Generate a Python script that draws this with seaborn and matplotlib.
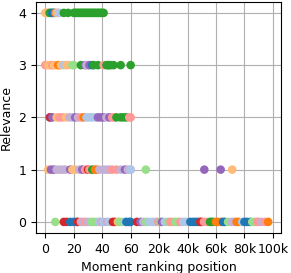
import numpy as np
import pandas as pd
import seaborn as sns
import matplotlib
matplotlib.use("Agg")
import matplotlib.pyplot as plt
from matplotlib.ticker import FuncFormatter

plt.rcParams["font.size"] = 9

# group codes -> tab20 colours (first ten)
B, LB, O, LO, G, LG, R, P, PU, LPU = range(10)

# relevance 4
rank_4 = [0, 1, 2, 3, 4, 5, 6, 7, 8, 9, 10, 13, 16, 20, 21, 22, 23, 24, 25, 26, 27,
          28, 29, 30, 31, 32, 33, 34, 35, 36, 37, 38, 39, 40, 41]
group_4 = [LO, LO, LO, G, G, B, B, O, LB, LO, LB, G, G, G, G, G, G, G, G, G, G,
           G, G, G, G, G, G, G, G, G, G, G, G, G, G]

# relevance 3
rank_3 = [0, 2, 3, 4, 5, 6, 7, 9, 10, 11, 13, 15, 16, 19, 20, 25, 28, 29, 30, 31,
          33, 34, 37, 41, 43, 44, 45, 46, 48, 53, 60]
group_3 = [P, LO, LO, LO, P, LO, LO, O, O, LO, LB, LO, LO, LG, LG, G, PU, LPU, LPU, PU,
           B, G, G, P, G, G, G, G, G, G, G]

# relevance 2
rank_2 = [3, 3.5, 5, 8, 10, 12, 14.5, 17, 19, 21, 23, 25, 27, 29, 31, 33, 35, 37, 39,
          41, 43, 45, 47, 48.5, 50, 53, 55, 57, 59, 61]
group_2 = [PU, R, PU, LO, P, P, LO, LPU, LPU, PU, LPU, P, O, LB, LB, LB, LB, PU, PU,
           PU, LPU, PU, P, P, G, G, G, G, P, P]

# relevance 1
rank_1 = [2, 4, 6, 8, 10, 12, 14, 17.5, 19, 21, 24, 26, 28, 30, 31, 33, 35, 36, 38,
          41, 43, 45, 47, 50, 53, 56, 58, 61, 63, 10700, 51800, 63300, 71400]
group_1 = [LO, PU, PU, LPU, LPU, LPU, LPU, PU, LO, LO, LPU, PU, P, R, P, G, O, O, LPU,
           LPU, LPU, LPU, P, P, LPU, PU, LPU, LPU, LB, LG, PU, PU, LO]

# relevance 0
rank_0 = [7, 13, 15, 17.5, 20, 22, 23, 25, 26, 28, 30, 32.5, 34, 36, 38, 39, 41, 43,
          45, 47.5, 49, 51, 52, 54, 56, 57, 59, 61, 4500, 7000, 9000, 11000, 13000,
          15600, 18000, 19500, 21000, 22000, 24000, 26500, 28000, 29800, 31500, 33300,
          35000, 37000, 38800, 40400, 42000, 43900, 45600, 47400, 49000, 50000, 51500,
          53500, 55800, 56800, 58100, 60000, 61600, 63500, 65000, 66300, 68500, 71000,
          72800, 74500, 76000, 78500, 80000, 81500, 83900, 85500, 87400, 89000, 90000,
          92000, 94400, 96700]
group_0 = [LG, R, R, B, B, B, R, P, LPU, P, LPU, LG, LG, LG, LB, LPU, LB, LPU,
           LB, R, R, LO, LG, LG, LB, B, B, B, R, PU, LPU, LG, LB,
           LB, LB, P, LG, PU, LB, LG, P, P, LG, LG,
           P, LB, LB, LB, B, B, B, B, R, R, P,
           P, G, G, G, O, O, O, B, B, LG, LPU,
           LPU, O, O, LB, B, B, B, LG, LG, P, P,
           LPU, P, O]

ranks = [rank_0, rank_1, rank_2, rank_3, rank_4]
groups = [group_0, group_1, group_2, group_3, group_4]
df = pd.concat([pd.DataFrame({"rank": r, "relevance": lvl, "group": g})
                for lvl, (r, g) in enumerate(zip(ranks, groups))], ignore_index=True)

palette = sns.color_palette("tab20", 20)[:10]


# linear up to 60, squeeze 60..20k, then 1 unit per 1000
def fwd(x):
    x = np.asarray(x, dtype=float)
    return np.where(x <= 60, x,
                    np.where(x < 20000, 60 + (x - 60) * 20 / 19940, 60 + x / 1000))


def inv(y):
    y = np.asarray(y, dtype=float)
    return np.where(y <= 60, y,
                    np.where(y < 80, 60 + (y - 60) * 19940 / 20, (y - 60) * 1000))


fig, ax = plt.subplots(figsize=(2.91, 2.73), dpi=100)
sns.scatterplot(data=df, x="rank", y="relevance", hue="group", palette=palette,
                hue_order=list(range(10)), s=38, linewidth=0, legend=False, ax=ax)
ax.set_xscale("function", functions=(fwd, inv))
ax.set_xlim(-6.5, 105800)
ax.set_ylim(-0.21, 4.21)
ax.set_xticks([0, 20, 40, 60, 20000, 40000, 60000, 80000, 100000])
ax.xaxis.set_major_formatter(FuncFormatter(
    lambda v, p: f"{int(round(v / 1000))}k" if v >= 1000 else f"{int(round(v))}"))
ax.xaxis.set_minor_locator(matplotlib.ticker.NullLocator())
ax.set_yticks([0, 1, 2, 3, 4])
ax.grid(True)
ax.set_axisbelow(True)
ax.set_xlabel("Moment ranking position")
ax.set_ylabel("Relevance")
plt.subplots_adjust(left=0.124, right=0.966, top=0.993, bottom=0.147)
plt.savefig("out.png", dpi=100)
